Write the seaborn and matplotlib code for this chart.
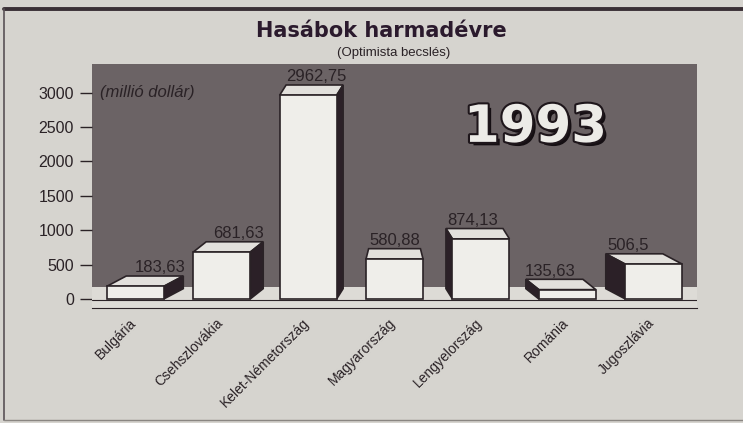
import numpy as np
import pandas as pd
import matplotlib
matplotlib.use("Agg")
import matplotlib.pyplot as plt
import matplotlib.patheffects as pe
import matplotlib.transforms as mtransforms
from matplotlib.patches import Polygon
from matplotlib.lines import Line2D
import seaborn as sns

countries = ["Bulgária", "Csehszlovákia", "Kelet-Németország", "Magyarország",
             "Lengyelország", "Románia", "Jugoszlávia"]
values = [183.63, 681.63, 2962.75, 580.88, 874.13, 135.63, 506.5]
value_labels = ["183,63", "681,63", "2962,75", "580,88", "874,13", "135,63", "506,5"]
y_ticks = [0, 500, 1000, 1500, 2000, 2500, 3000]

PAGE = "#d6d4cf"
PANEL = "#6b6365"
FLOOR = "#dddbd6"
FACE = "#efeeea"
TOP = "#e2e0dc"
SIDE = "#2b2027"
INK = "#2a2226"

sns.set_theme(style="white")
plt.rcParams["font.family"] = ["Liberation Sans", "DejaVu Sans"]
NARROW = ["Liberation Sans Narrow", "Liberation Sans", "DejaVu Sans"]

df = pd.DataFrame({"country": countries, "value": values})

fig = plt.figure(figsize=(7.43, 4.23), dpi=100, facecolor=PAGE)
ax = fig.add_axes([0.124, 0.272, 0.814, 0.577])
ax.set_facecolor(PANEL)

sns.barplot(data=df, x="country", y="value", color=FACE, width=0.66,
            edgecolor=INK, linewidth=1.2, saturation=1, ax=ax, zorder=4)

# floor strip under the bars
ax.axhspan(-131, 175, color=FLOOR, zorder=1, lw=0)
ax.axhline(-12, color=INK, lw=0.8, zorder=2)

# fake 3D: top and side faces, perspective from the middle bar
dy = 150
for i, bar in enumerate(ax.patches[:len(values)]):
    x0, w, h = bar.get_x(), bar.get_width(), bar.get_height()
    dx = 0.075 * (3 - i)
    inset = 0.03 if dx == 0 else 0.0
    top = Polygon([(x0, h), (x0 + w, h), (x0 + w + dx - inset, h + dy),
                   (x0 + dx + inset, h + dy)],
                  closed=True, facecolor=TOP, edgecolor=INK, lw=1.2, zorder=3)
    ax.add_patch(top)
    if dx > 0:
        side = [(x0 + w, 0), (x0 + w, h), (x0 + w + dx, h + dy), (x0 + w + dx, dy)]
    elif dx < 0:
        side = [(x0, 0), (x0, h), (x0 + dx, h + dy), (x0 + dx, dy)]
    else:
        side = None
    if side:
        ax.add_patch(Polygon(side, closed=True, facecolor=SIDE, edgecolor=INK,
                             lw=1.2, zorder=3))
    ax.text(i + 1.3 * dx, h + dy + 120, value_labels[i], ha="center", va="center",
            fontsize=12, color=INK, family=NARROW, zorder=5)

ax.set_xlim(-0.5, len(values) - 0.5)
ax.set_ylim(-131, 3420)
ax.set_yticks(y_ticks)
ax.set_yticklabels([str(t) for t in y_ticks], fontsize=11.5, color=INK)
ax.tick_params(axis="y", left=True, length=9, width=1, color=INK, pad=4)
ax.tick_params(axis="x", bottom=False, pad=1)
ax.set_xticks(range(len(countries)))
ax.set_xticklabels(countries, fontsize=10, color=INK, family=NARROW)
shift = mtransforms.ScaledTranslation(-6 / 100, 2 / 100, fig.dpi_scale_trans)
for lab in ax.get_xticklabels():
    lab.set_rotation(45)
    lab.set_ha("right")
    lab.set_rotation_mode("anchor")
    lab.set_transform(lab.get_transform() + shift)
ax.set_xlabel("")
ax.set_ylabel("")
for s in ["top", "right", "left"]:
    ax.spines[s].set_visible(False)
ax.spines["bottom"].set_color(INK)
ax.spines["bottom"].set_linewidth(0.8)

ax.text(-0.407, 3000, "(millió dollár)", style="italic", fontsize=12,
        ha="left", va="center", color=INK, zorder=5)
ax.text(4.63, 2489, "1993", fontsize=37, weight="bold", family="DejaVu Sans",
        color="#ecebe7", ha="center", va="center", zorder=5,
        path_effects=[pe.SimplePatchShadow(offset=(2.5, -2.5), shadow_rgbFace="#150f13", alpha=1),
                      pe.Stroke(linewidth=3, foreground="#1e161b"), pe.Normal()])

fig.text(0.513, 0.927, "Hasábok harmadévre", ha="center", va="center",
         fontsize=15, weight="bold", color="#2b1a2d", family="DejaVu Sans")
fig.text(0.530, 0.875, "(Optimista becslés)", ha="center", va="center",
         fontsize=9.5, color=INK, family=NARROW)

# newspaper frame
fig.add_artist(Line2D([0.006, 1.0], [0.979, 0.979], color="#3a3036", lw=2.8,
                      transform=fig.transFigure))
fig.add_artist(Line2D([0.006, 0.006], [0.006, 0.979], color="#5a5256", lw=1.2,
                      transform=fig.transFigure))
fig.add_artist(Line2D([0.006, 1.0], [0.006, 0.006], color="#8a8682", lw=1.0,
                      transform=fig.transFigure))

fig.savefig("out.png", dpi=100, facecolor=PAGE)
